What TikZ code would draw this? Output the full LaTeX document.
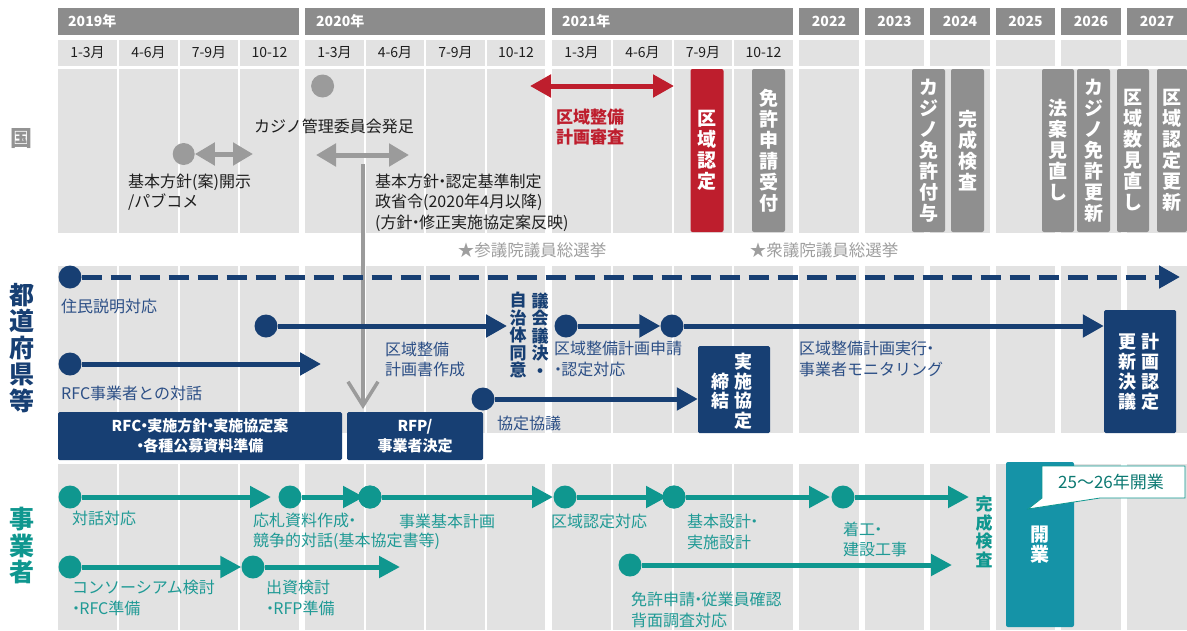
\documentclass[tikz,border=0pt]{standalone}
\usepackage{fontspec}
\setmainfont{Noto Sans CJK JP}
\usetikzlibrary{arrows.meta}
\definecolor{hdr}{HTML}{8C8C8C}
\definecolor{cellg}{HTML}{E2E2E2}
\definecolor{gmid}{HTML}{9B9B9B}
\definecolor{gbar}{HTML}{8F8F8F}
\definecolor{kred}{HTML}{BE1E2D}
\definecolor{navy}{HTML}{173F73}
\definecolor{navyt}{HTML}{2C4F86}
\definecolor{tealc}{HTML}{0F978F}
\definecolor{tealt}{HTML}{1F9A95}
\definecolor{openc}{HTML}{1593A7}
\definecolor{elect}{HTML}{9E9E9E}
\definecolor{ink}{HTML}{1E1E1E}
\newcommand\fsz[2]{\fontsize{#1}{#2}\selectfont}
\newcommand\nd{\kern-.3em・\kern-.3em}
\newcommand\ld{\kern-.25em・\kern-.3em}
\tikzset{
  dotn/.style={circle, inner sep=0pt, minimum size=23pt},
  navdot/.style={dotn, fill=navy},
  teadot/.style={dotn, fill=tealc},
  greydot/.style={dotn, fill=gmid},
  navarr/.style={draw=navy, line width=5pt, -{Triangle[length=21pt,width=22pt]}},
  teaarr/.style={draw=tealc, line width=5pt, -{Triangle[length=21pt,width=21pt]}},
  gdbl/.style={draw=gmid, line width=5pt, {Triangle[length=20pt,width=22pt]}-{Triangle[length=20pt,width=22pt]}},
  rdbl/.style={draw=kred, line width=5pt, {Triangle[length=21pt,width=22pt]}-{Triangle[length=21pt,width=22pt]}},
  vbar/.style={rounded corners=2pt, minimum width=33pt, minimum height=163pt, inner sep=0pt, text=white, align=center, font=\fsz{19}{21}\bfseries},
  txt/.style={inner sep=0pt, align=left, anchor=west, font=\fsz{16}{20.5}},
  yeartxt/.style={inner sep=0pt, text=white, font=\fsz{14}{16}\bfseries},
  qtxt/.style={inner sep=0pt, text=ink, font=\fsz{14}{16}},
  navbox/.style={fill=navy, rounded corners=1.5pt, inner sep=0pt, text=white, align=center, font=\fsz{15}{20.5}\bfseries},
  vcol/.style={inner sep=0pt, align=center},
  sidelab/.style={inner sep=0pt, align=center, font=\fsz{25}{26.5}\bfseries},
}
\begin{document}
\begin{tikzpicture}[x=1pt,y=-1pt]
\useasboundingbox (0,0) rectangle (1187,630);
% ---------- grid columns ----------
\foreach \l/\r in {58/117,119/178,180/238,240/299,305/364,366/424,426/485,487/545,552/611,613/672,674/732,734/793,799/859,865/924,930/990,996/1055,1061/1121,1127/1187}{
  \fill[cellg] (\l,40) rectangle (\r,66);
  \fill[cellg] (\l,69) rectangle (\r,233);
  \fill[cellg] (\l,266) rectangle (\r,433);
  \fill[cellg] (\l,464) rectangle (\r,630);
}
% ---------- year bars ----------
\foreach \l/\r in {58/299,305/545,552/793,799/859,865/924,930/990,996/1055,1061/1121,1127/1187}{
  \fill[hdr] (\l,8) rectangle (\r,35);
}
\node[yeartxt, anchor=west] (y2019) at (68,21.5) {2019年};
\node[yeartxt, anchor=west] (y2020) at (316,21.5) {2020年};
\node[yeartxt, anchor=west] (y2021) at (562,21.5) {2021年};
\node[yeartxt] (y2022) at (829,21.5) {2022};
\node[yeartxt] (y2023) at (894.5,21.5) {2023};
\node[yeartxt] (y2024) at (960,21.5) {2024};
\node[yeartxt] (y2025) at (1025.5,21.5) {2025};
\node[yeartxt] (y2026) at (1091,21.5) {2026};
\node[yeartxt] (y2027) at (1157,21.5) {2027};
% quarter labels
\foreach \c/\t [count=\i] in {87.5/1-3月,148.5/4-6月,209/7-9月,269.5/10-12,334.5/1-3月,395/4-6月,455.5/7-9月,516/10-12,581.5/1-3月,642.5/4-6月,703/7-9月,763.5/10-12}{
  \node[qtxt] (q\i) at (\c,53) {\t};
}
% ---------- side labels ----------
\node[sidelab, text=gmid!95!black, font=\fsz{22}{24}\bfseries] (lkuni) at (21,139) {国};
\node[sidelab, text=navy] (lpref) at (22,348) {都\\道\\府\\県\\等};
\node[sidelab, text=tealc] (lbiz) at (22,546) {事\\業\\者};
% ---------- band 1 : 国 ----------
\node[greydot] (g1) at (322.6,86) {};
\node[txt, anchor=center, text=ink] (tcasino) at (334,126) {カジノ管理委員会発足};
\node[greydot, minimum size=22pt] (g2) at (183.7,154) {};
\coordinate (ga1) at (253,154);
\draw[gdbl] (g2) -- (ga1);
\coordinate (ga2s) at (316,155);
\coordinate (ga2e) at (409,155);
\draw[gdbl] (ga2s) -- (ga2e);
\node[txt, text=ink] (tkian) at (128,192) {基本方針(案)開示\\/パブコメ};
\node[txt, text=ink] (tkihon) at (375,202.5) {基本方針\nd 認定基準制定\\政省令(2020年4月以降)\\(方針\nd 修正実施協定案反映)};
\coordinate (gvs) at (363,164);
\coordinate (gve) at (363,409);
\draw[draw=gmid, line width=3.5pt, -{Straight Barb[length=24pt,width=30pt,line width=3.5pt]}] (gvs) -- (gve);
\coordinate (ra1) at (530,86);
\coordinate (ra2) at (674,86);
\draw[rdbl] (ra1) -- (ra2);
\node[txt, text=kred, font=\fsz{17}{20}\bfseries] (tshinsa) at (556,127) {区域整備\\計画審査};
\node[vbar, fill=kred] (bninte) at (707,150.5) {区\\域\\認\\定};
\node[vbar, fill=gbar] (bmenkyo) at (768.5,150.5) {免\\許\\申\\請\\受\\付};
\node[vbar, fill=gbar] (bfuyo) at (928.5,150.5) {カ\\ジ\\ノ\\免\\許\\付\\与};
\node[vbar, fill=gbar] (bkansei) at (967.5,150.5) {完\\成\\検\\査};
\node[vbar, fill=gbar, minimum width=32pt] (bhoan) at (1058,150.5) {法\\案\\見\\直\\し};
\node[vbar, fill=gbar] (bkoshin) at (1093.5,150.5) {カ\\ジ\\ノ\\免\\許\\更\\新};
\node[vbar, fill=gbar, minimum width=32pt] (bkuiki) at (1133,150.5) {区\\域\\数\\見\\直\\し};
\node[vbar, fill=gbar, minimum width=30pt] (bkoshin2) at (1172,150.5) {区\\域\\認\\定\\更\\新};
\node[txt, anchor=center, text=elect, font=\fsz{16.5}{18}] (tsangi) at (532,250) {★参議院議員総選挙};
\node[txt, anchor=center, text=elect, font=\fsz{16.5}{18}] (tshugi) at (824,250) {★衆議院議員総選挙};
% ---------- band 2 : 都道府県等 ----------
\node[navbox, minimum width=72pt, minimum height=87pt] (bkyotei) at (734,389.5) {};
\node[vcol, text=white, font=\fsz{18}{19.5}\bfseries] (tkyo1) at (743,391) {実\\施\\協\\定};
\node[vcol, text=white, font=\fsz{18}{19.5}\bfseries] (tkyo2) at (720,391) {締\\結};
\node[navbox, minimum width=72pt, minimum height=123pt] (bkettei) at (1140,371.5) {};
\node[vcol, text=white, font=\fsz{18}{20}\bfseries] (tket1) at (1150,372) {計\\画\\認\\定};
\node[vcol, text=white, font=\fsz{18}{20}\bfseries] (tket2) at (1127,372) {更\\新\\決\\議};
\node[navbox, minimum width=284pt, minimum height=48pt] (brfc) at (200,436) {RFC\nd 実施方針\nd 実施協定案\\\ld 各種公募資料準備};
\node[navbox, minimum width=136pt, minimum height=48pt] (brfp) at (415,436) {RFP/\\事業者決定};
\node[navdot] (d0) at (70,277) {};
\coordinate (d0e) at (1180,277);
\draw[navarr, dash pattern=on 20pt off 9pt] (d0) -- (d0e);
\node[navdot] (d1) at (266,326) {};
\coordinate (d1e) at (507,326);
\draw[navarr] (d1) -- (d1e);
\node[navdot] (d2) at (70,364) {};
\coordinate (d2e) at (321,364);
\draw[navarr] (d2) -- (d2e);
\node[navdot] (d3) at (566,326) {};
\node[navdot] (d4) at (672,326) {};
\draw[navarr] (d3) -- (d4);
\draw[navarr] (d4) -- (bkettei.west |- d4);
\node[navdot] (d5) at (483,399) {};
\draw[navarr] (d5) -- (bkyotei.west |- d5);
\node[txt, text=navyt] (tjumin) at (61,306) {住民説明対応};
\node[txt, text=navyt] (trfc) at (61,393) {RFC事業者との対話};
\node[txt, text=navyt] (tkeikaku) at (385,359.5) {区域整備\\計画書作成};
\node[txt, text=navyt] (tshinsei) at (554,359) {区域整備計画申請\\\ld 認定対応};
\node[txt, text=navyt] (tjikko) at (799,359) {区域整備計画実行\nd\\事業者モニタリング};
\node[txt, text=navyt] (tkyogi) at (497,423) {協定協議};
\node[vcol, text=navy, font=\fsz{17}{17.5}\bfseries] (tdoi1) at (518,335) {自\\治\\体\\同\\意};
\node[vcol, text=navy, font=\fsz{17}{17.5}\bfseries] (tdoi2) at (540,335) {議\\会\\議\\決\\・};
% ---------- band 3 : 事業者 ----------
\node[fill=openc, rounded corners=2pt, minimum width=68pt, minimum height=165pt, inner sep=0pt, text=white, align=center, font=\fsz{19}{20}\bfseries] (bkaigyo) at (1040,544.5) {開\\業};
\draw[draw=tealc, line width=0.8pt, fill=white] (1042,466) -- (1185,466) -- (1185,498) -- (1100,498) -- (1028,509) -- (1042,498) -- cycle;
\node[inner sep=0pt, text=tealc!80!black, font=\fsz{17}{19}] (tcallout) at (1111,482) {25〜26年開業};
% arrows
\node[teadot] (c1) at (70,497) {};
\node[teadot] (c2) at (290,497) {};
\node[teadot] (c3) at (370,497) {};
\node[teadot] (c4) at (565,497) {};
\node[teadot] (c5) at (674,497) {};
\node[teadot] (c6) at (843,497) {};
\node[teadot] (c7) at (70,567) {};
\node[teadot] (c8) at (253,567) {};
\node[teadot] (c9) at (630,565) {};
\coordinate (c1e) at (271,497);
\coordinate (c2e) at (364,497);
\coordinate (c3e) at (553,497);
\coordinate (c4e) at (667,497);
\coordinate (c5e) at (830,497);
\coordinate (c6e) at (969,497);
\coordinate (c8e) at (400,567);
\coordinate (c9e) at (952,565);
\draw[teaarr] (c1) -- (c1e);
\draw[teaarr] (c2) -- (c2e);
\draw[teaarr] (c3) -- (c3e);
\draw[teaarr] (c4) -- (c4e);
\draw[teaarr] (c5) -- (c5e);
\draw[teaarr] (c6) -- (c6e);
\draw[teaarr] (c7) -- (c8);
\draw[teaarr] (c8) -- (c8e);
\draw[teaarr] (c9) -- (c9e);
\node[teadot] (c3b) at (370,497) {};
\node[teadot] (c5b) at (674,497) {};
\node[txt, text=tealt] (ttaiwa) at (72,518) {対話対応};
\node[txt, text=tealt] (tosatsu) at (253,531.5) {応札資料作成\nd\\競争的対話(基本協定書等)};
\node[txt, text=tealt] (tjigyo) at (399,521) {事業基本計画};
\node[txt, text=tealt] (tninte) at (551,521) {区域認定対応};
\node[txt, text=tealt] (tsekkei) at (687,532) {基本設計\nd\\実施設計};
\node[txt, text=tealt] (tchako) at (843,539.5) {着工\nd\\建設工事};
\node[vcol, text=tealc, font=\fsz{17}{18.5}\bfseries] (tkanken) at (984,532) {完\\成\\検\\査};
\node[txt, text=tealt] (tconso) at (72,598) {コンソーシアム検討\\\ld RFC準備};
\node[txt, text=tealt] (tshusshi) at (266,598) {出資検討\\\ld RFP準備};
\node[txt, text=tealt] (tmenkyo) at (631,610) {免許申請\nd 従業員確認\\背面調査対応};
\end{tikzpicture}
\end{document}
